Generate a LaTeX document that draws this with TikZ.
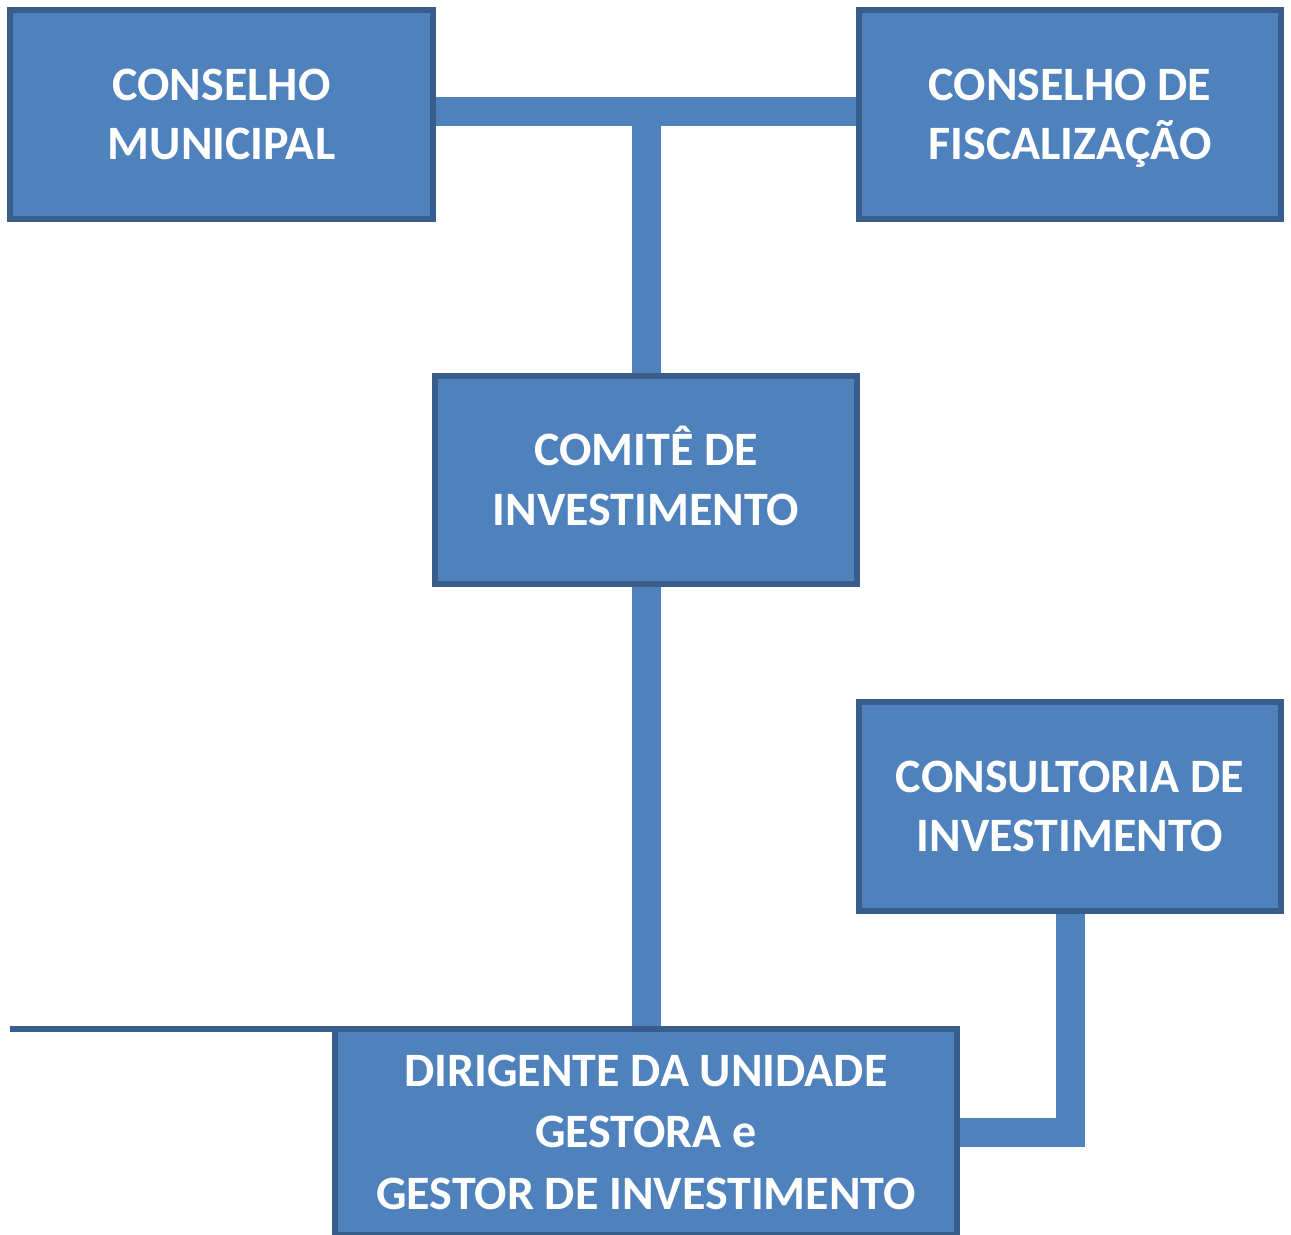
\documentclass[tikz,border=0pt]{standalone}
\usepackage{fontspec}
\setmainfont{Carlito}
\usetikzlibrary{positioning,backgrounds}

\definecolor{boxfill}{HTML}{4F81BD}
\definecolor{boxline}{HTML}{385D8A}

\tikzset{
  orgbox/.style={draw=boxline, fill=boxfill, line width=0.12cm, text=white,
    font=\fontsize{27.3}{34}\selectfont\bfseries, align=center, inner sep=0pt,
    outer sep=0pt, minimum width=8.46cm, minimum height=4.18cm},
  link/.style={draw=boxfill, line width=0.58cm},
  thinlink/.style={draw=boxline, line width=0.12cm}
}

\begin{document}
\begin{tikzpicture}[x=0.02cm, y=-0.02cm]
			\useasboundingbox (0,0) rectangle (1291,1234);

			\node[orgbox] (cm) at (221.5,114.5) {CONSELHO\\MUNICIPAL};
			\node[orgbox] (cf) at (1070,114.5) {CONSELHO DE\\FISCALIZA\smash{Ç}ÃO};
			\node[orgbox] (ci) at (646,480) {COMIT\smash{Ê} DE\\INVESTIMENTO};
			\node[orgbox] (co) at (1070,806.5) {CONSULTORIA DE\\INVESTIMENTO};
			\node[orgbox, minimum width=12.44cm, minimum height=4.12cm, font=\fontsize{27.3}{35}\selectfont\bfseries] (dg) at (646,1132) {DIRIGENTE DA UNIDADE\\GESTORA e\\GESTOR DE INVESTIMENTO};

			\begin{scope}[on background layer]
				\draw[link] ([yshift=0.07cm]cm.east) coordinate (tleft) -- ([yshift=0.07cm]cf.west);
				\draw[link] (ci.north) -- (ci.north |- tleft);
				\draw[link] (ci.south) -- (dg.north);
				\draw[link] (co.south) |- (dg.east);
			\end{scope}

			\coordinate (lineend) at (10,0);
			\draw[thinlink] (dg.north west) -- (dg.north west -| lineend);
		\end{tikzpicture}
\end{document}
